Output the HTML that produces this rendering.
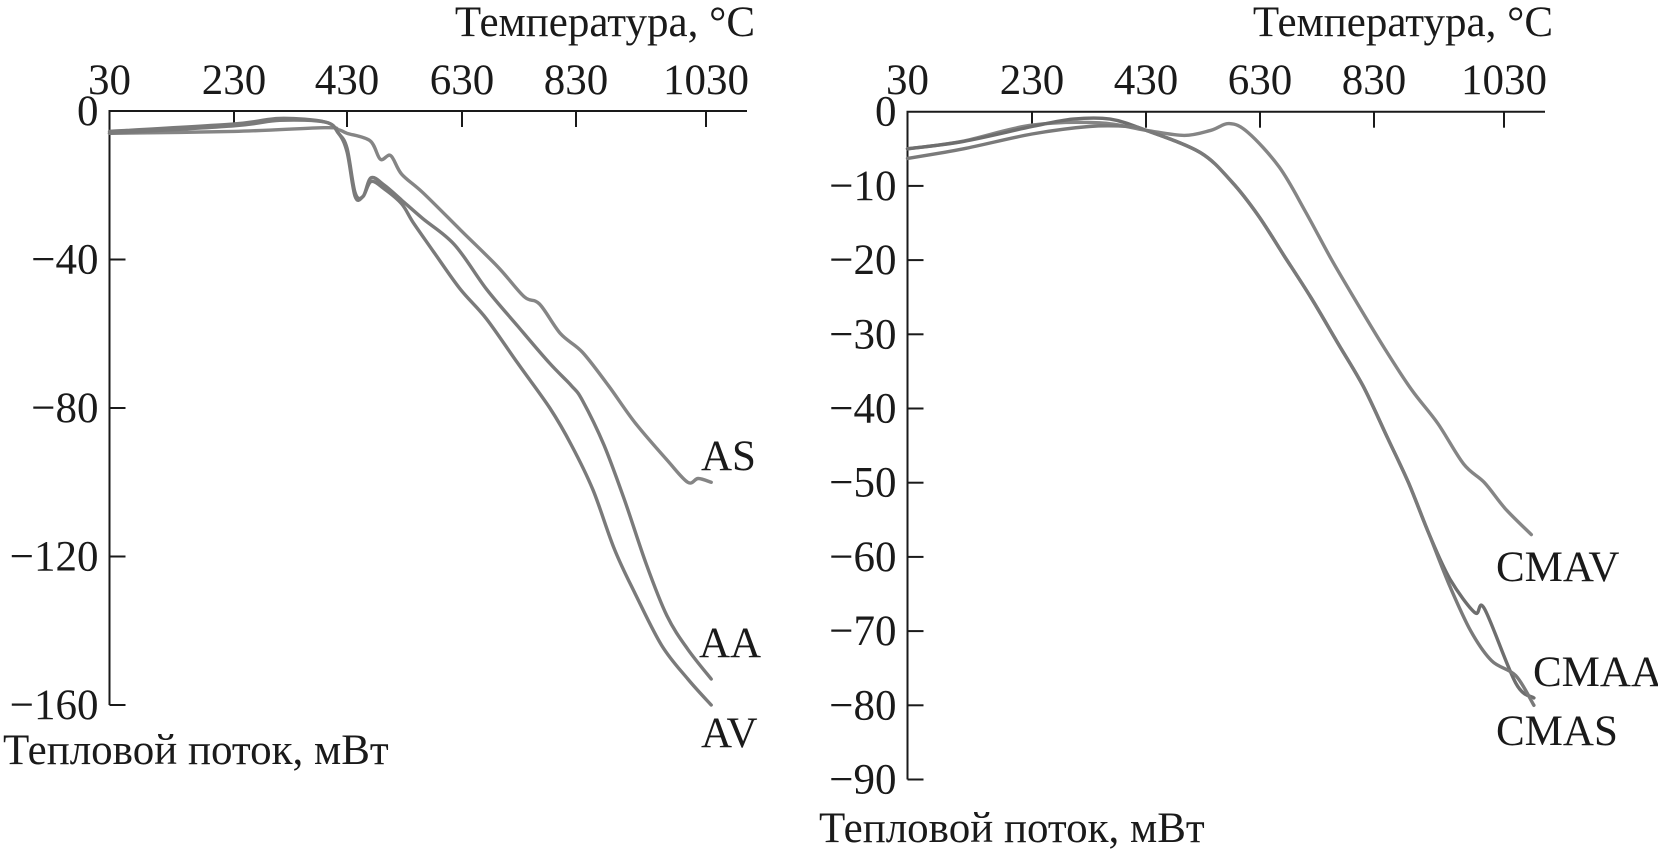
<!DOCTYPE html>
<html><head><meta charset="utf-8"><style>
html,body{margin:0;padding:0;background:#fff;}
svg{display:block;font-family:"Liberation Serif",serif;}
text{fill:#1a1a1a;font-size:43px;font-family:"Liberation Serif",serif;}
</style></head><body>
<svg id="chart" width="1658" height="853" viewBox="0 0 1658 853"></svg>
<script>
// ---- data (temperature °C, heat flow mW) ----
const xTickLabels = [30, 230, 430, 630, 830, 1030];
const leftYTicks = [0, -40, -80, -120, -160];
const rightYTicks = [0, -10, -20, -30, -40, -50, -60, -70, -80, -90];

const asT = [30, 230, 390, 415, 430, 470, 488, 506, 525, 562, 627, 693, 739, 766, 803, 840, 880, 921, 970, 1002, 1018, 1038];
const asV = [-6, -5.5, -4.5, -5, -6, -8, -13, -12, -17, -22, -32, -42, -50, -52, -60, -65, -74, -84, -94, -100, -99, -100];

const aaT = [30, 230, 311, 392, 415, 430, 444, 458, 472, 495, 525, 562, 617, 673, 728, 784, 822, 840, 873, 905, 938, 970, 1002, 1038];
const aaV = [-6, -4, -2.5, -3, -6, -10, -22, -23, -18, -20, -24, -29, -36, -48, -58, -68, -74, -78, -90, -105, -122, -136, -145, -153];

const avT = [30, 230, 311, 392, 415, 430, 444, 458, 472, 495, 525, 545, 581, 627, 673, 728, 784, 822, 856, 889, 921, 962, 1002, 1038];
const avV = [-5.5, -3.5, -2, -3, -6, -11, -23, -23, -19, -21, -25, -30, -38, -48, -56, -68, -80, -90, -102, -118, -130, -144, -153, -160];

const cmavT = [30, 117, 230, 349, 430, 497, 544, 576, 609, 664, 710, 756, 802, 847, 888, 928, 968, 1000, 1032, 1072];
const cmavV = [-5, -4, -1.8, -1.5, -2.5, -3.2, -2.5, -1.6, -2.8, -7.5, -13.5, -20, -26, -32, -37.5, -42, -47.5, -50, -53.5, -57];

const cmaaT = [30, 120, 230, 302, 367, 430, 525, 581, 627, 673, 719, 765, 811, 851, 883, 915, 947, 985, 1000, 1048, 1076];
const cmaaV = [-5, -4, -2, -1, -1, -2.5, -5.5, -9.5, -14, -19.5, -25, -31, -37, -44, -50, -57, -63, -67.5, -67, -77, -79];

const cmasT = [30, 120, 230, 330, 400, 430, 525, 581, 627, 673, 719, 765, 811, 851, 883, 915, 947, 979, 1011, 1048, 1076];
const cmasV = [-6.3, -5, -3, -2, -2, -2.5, -5.5, -9.5, -14, -19.5, -25, -31, -37, -44, -50, -57, -64, -70, -74, -76, -80];

// ---- layout ----
const NS = "http://www.w3.org/2000/svg";
const svg = document.getElementById("chart");
function el(tag, attrs, parent) {
  const e = document.createElementNS(NS, tag);
  for (const k in attrs) e.setAttribute(k, attrs[k]);
  (parent || svg).appendChild(e);
  return e;
}
function makeX(px) {
  return function (t) {
    let i = 0;
    while (i < xTickLabels.length - 2 && t > xTickLabels[i + 1]) i++;
    const t0 = xTickLabels[i], t1 = xTickLabels[i + 1];
    return px[i] + (t - t0) / (t1 - t0) * (px[i + 1] - px[i]);
  };
}
function smooth(pts) {
  let d = "M" + pts[0][0].toFixed(1) + "," + pts[0][1].toFixed(1);
  for (let i = 0; i < pts.length - 1; i++) {
    const p0 = pts[Math.max(0, i - 1)], p1 = pts[i], p2 = pts[i + 1], p3 = pts[Math.min(pts.length - 1, i + 2)];
    const k = 1 / 6;
    const c1x = p1[0] + (p2[0] - p0[0]) * k, c1y = p1[1] + (p2[1] - p0[1]) * k;
    const c2x = p2[0] - (p3[0] - p1[0]) * k, c2y = p2[1] - (p3[1] - p1[1]) * k;
    d += "C" + c1x.toFixed(1) + "," + c1y.toFixed(1) + " " + c2x.toFixed(1) + "," + c2y.toFixed(1) + " " + p2[0].toFixed(1) + "," + p2[1].toFixed(1);
  }
  return d;
}
const panels = [
  { name: "left", px: [109.5, 234, 347, 462, 576, 706], xEnd: 747, y0: 111, yPer: 3.7125,
    yTicks: leftYTicks, titleX: 755, xlabX: 3, xlabY: 764,
    series: [["AS", asT, asV, "#858585", 701, 470], ["AA", aaT, aaV, "#7a7a7a", 699, 657], ["AV", avT, avV, "#7a7a7a", 701, 747]] },
  { name: "right", px: [907.5, 1032, 1146, 1260, 1374, 1504], xEnd: 1545, y0: 111.7, yPer: 7.42,
    yTicks: rightYTicks, titleX: 1553, xlabX: 819, xlabY: 842,
    series: [["CMAV", cmavT, cmavV, "#858585", 1496, 581], ["CMAA", cmaaT, cmaaV, "#6e6e6e", 1533, 686], ["CMAS", cmasT, cmasV, "#7a7a7a", 1496, 745]] }
];

panels.forEach(p => {
  const g = el("g", {});
  
  
  const X = makeX(p.px);
  const Y = v => p.y0 - v * p.yPer;
  const yMin = p.yTicks[p.yTicks.length - 1];
  const ax = el("path", { d: `M${p.px[0]},${Y(yMin)}V${p.y0}H${p.xEnd}`, fill: "none", stroke: "#1a1a1a", "stroke-width": 2 }, g);
  
  
  xTickLabels.forEach((t, i) => {
    const x = X(t);
    if (i > 0) {
      const tk = el("line", { x1: x, x2: x, y1: p.y0, y2: p.y0 + 16, stroke: "#1a1a1a", "stroke-width": 2 }, g);
      
      
    }
    const tl = el("text", { x: x, y: 94, "text-anchor": "middle" }, g);
    tl.textContent = t;
    
    
  });
  p.yTicks.forEach((v, i) => {
    const y = Y(v);
    if (i > 0) {
      const tk = el("line", { x1: p.px[0], x2: p.px[0] + 16, y1: y, y2: y, stroke: "#1a1a1a", "stroke-width": 2 }, g);
      
      
    }
    const tl = el("text", { x: p.px[0] - 11, y: y + 14, "text-anchor": "end" }, g);
    tl.textContent = v < 0 ? "\u2212" + (-v) : String(v);
    
    
  });
  const tt = el("text", { x: p.titleX, y: 36, "text-anchor": "end" }, g);
  tt.textContent = "Температура, °C";
  
  
  const yt = el("text", { x: p.xlabX, y: p.xlabY }, g);
  yt.textContent = "Тепловой поток, мВт";
  
  
  p.series.forEach(s => {
    const [lab, T, V, col, lx, ly] = s;
    const pts = T.map((t, i) => [X(t), Y(V[i])]);
    const ln = el("path", { d: smooth(pts), fill: "none", stroke: col, "stroke-width": 3.4, "stroke-linejoin": "round", "stroke-linecap": "round" }, g);
    
    
    const lt = el("text", { x: lx, y: ly }, g);
    lt.textContent = lab;
    
    
  });
});
</script>
</body></html>
